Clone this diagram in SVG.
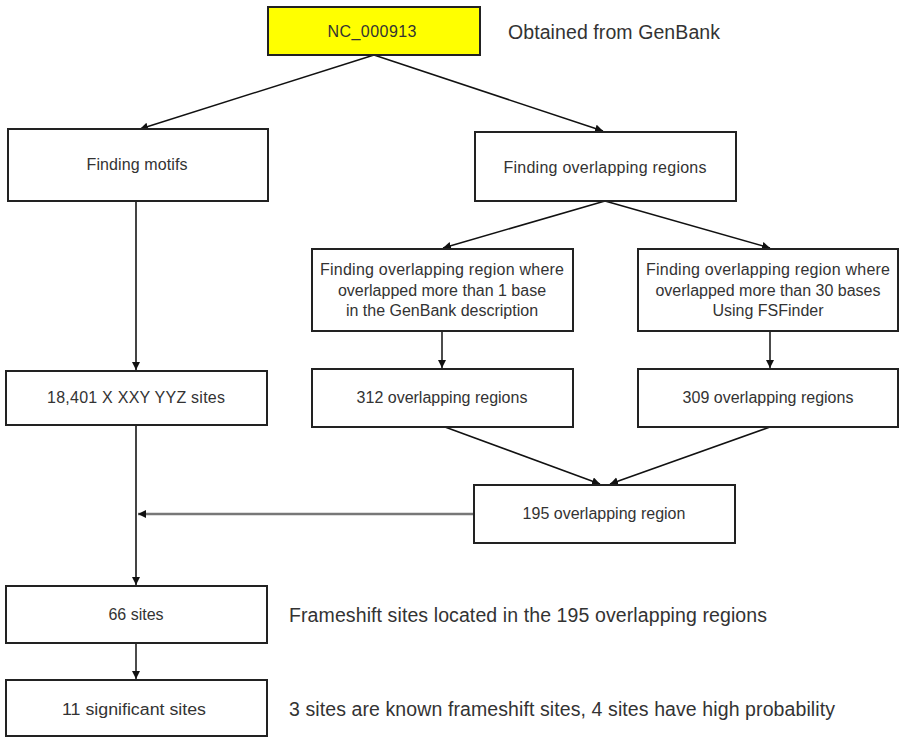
<svg xmlns="http://www.w3.org/2000/svg" width="900" height="737" viewBox="0 0 900 737">
<style>
.box{fill:#fff;stroke:#222;stroke-width:2}
.t{font-family:"Liberation Sans",Arial,sans-serif;font-size:16px;fill:#333;text-anchor:middle;dominant-baseline:central}
.n{font-family:"Liberation Sans",Arial,sans-serif;font-size:19.5px;fill:#333;dominant-baseline:central}
.c{fill:none;stroke:#111;stroke-width:1.5;marker-end:url(#ah)}
</style>
<defs>
<marker id="ah" markerUnits="userSpaceOnUse" markerWidth="10" markerHeight="10" refX="8" refY="4" orient="auto">
<path d="M0,0 L8,4 L0,8 z" fill="#111"/>
</marker>
</defs>
<rect width="900" height="737" fill="#fff"/>
<g id="connectors">
<line class="c" x1="374" y1="55" x2="140" y2="129"/>
<line class="c" x1="374" y1="55" x2="603" y2="131"/>
<line class="c" x1="605" y1="201" x2="443" y2="248"/>
<line class="c" x1="605" y1="201" x2="770" y2="248"/>
<line class="c" x1="136" y1="201" x2="136" y2="370" style="stroke:#444;stroke-width:2"/>
<line class="c" x1="442" y1="331" x2="442" y2="368"/>
<line class="c" x1="770" y1="331" x2="770" y2="368"/>
<line class="c" x1="445" y1="427" x2="600" y2="484"/>
<line class="c" x1="770" y1="427" x2="610" y2="484"/>
<line class="c" x1="474" y1="514" x2="138" y2="514" style="stroke:#777;stroke-width:2.5"/>
<line class="c" x1="136" y1="425" x2="136" y2="585" style="stroke:#444;stroke-width:2"/>
<line class="c" x1="136" y1="643" x2="136" y2="679"/>
</g>
<g id="nc000913">
<rect x="268" y="7" width="212" height="48" fill="#ffff00" stroke="#222" stroke-width="2"/>
<text class="t" x="372" y="31" textLength="89">NC_000913</text>
</g>
<g id="note-genbank"><text class="n" x="508" y="32" textLength="212">Obtained from GenBank</text></g>
<g id="finding-motifs">
<rect class="box" x="8" y="129" width="260" height="72"/>
<text class="t" x="137" y="164" textLength="101">Finding motifs</text>
</g>
<g id="finding-overlapping">
<rect class="box" x="475" y="132" width="261" height="69"/>
<text class="t" x="605" y="167" textLength="203">Finding overlapping regions</text>
</g>
<g id="overlap-genbank">
<rect class="box" x="312" y="249" width="261" height="82"/>
<text class="t" x="442" y="269" textLength="244">Finding overlapping region where</text>
<text class="t" x="442" y="290">overlapped more than 1 base</text>
<text class="t" x="442" y="310">in the GenBank description</text>
</g>
<g id="overlap-fsfinder">
<rect class="box" x="638" y="249" width="260" height="82"/>
<text class="t" x="768" y="269" textLength="244">Finding overlapping region where</text>
<text class="t" x="768" y="290">overlapped more than 30 bases</text>
<text class="t" x="768" y="310">Using FSFinder</text>
</g>
<g id="sites-18401">
<rect class="box" x="6" y="371" width="261" height="54"/>
<text class="t" x="136" y="397" textLength="178">18,401 X XXY YYZ sites</text>
</g>
<g id="regions-312">
<rect class="box" x="312" y="369" width="261" height="58"/>
<text class="t" x="442" y="397">312 overlapping regions</text>
</g>
<g id="regions-309">
<rect class="box" x="638" y="369" width="260" height="58"/>
<text class="t" x="768" y="397">309 overlapping regions</text>
</g>
<g id="region-195">
<rect class="box" x="474" y="485" width="261" height="58"/>
<text class="t" x="604" y="513">195 overlapping region</text>
</g>
<g id="sites-66">
<rect class="box" x="6" y="586" width="261" height="57"/>
<text class="t" x="136" y="614">66 sites</text>
</g>
<g id="note-frameshift"><text class="n" x="289" y="615" textLength="478">Frameshift sites located in the 195 overlapping regions</text></g>
<g id="sites-11">
<rect class="box" x="6" y="680" width="261" height="56"/>
<text class="t" x="134" y="709" textLength="144" lengthAdjust="spacingAndGlyphs">11 significant sites</text>
</g>
<g id="note-significant"><text class="n" x="289" y="709" textLength="546">3 sites are known frameshift sites, 4 sites have high probability</text></g>
</svg>
